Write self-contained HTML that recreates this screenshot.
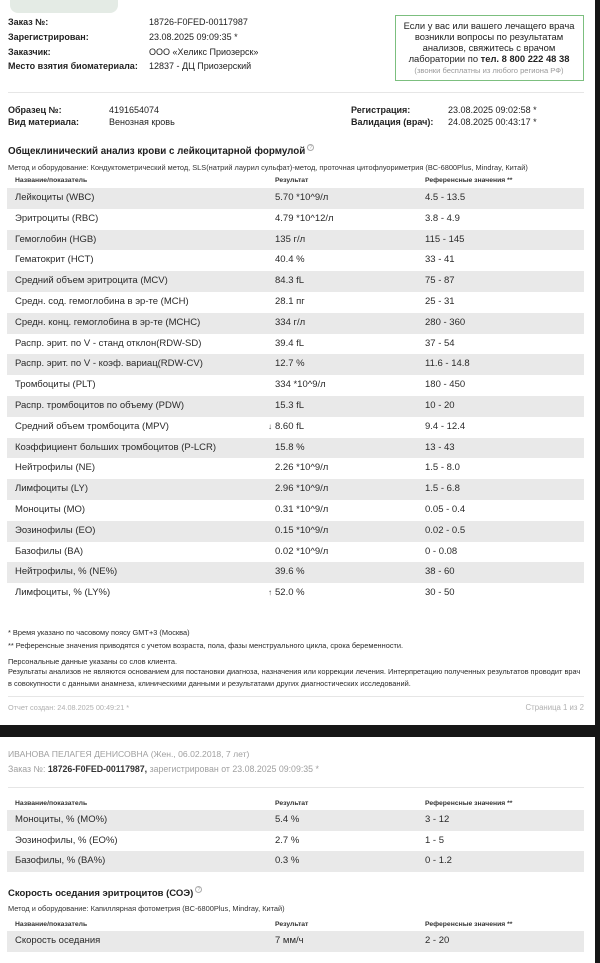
<!DOCTYPE html>
<html><head><meta charset="utf-8">
<style>
*{margin:0;padding:0;box-sizing:border-box}
html,body{width:600px;height:963px}
body{background:#fff;overflow:hidden;position:relative;font-family:"Liberation Sans","DejaVu Sans",sans-serif;color:#333}
.a{position:absolute;white-space:nowrap;line-height:12px}
.b{font-weight:bold}
.top{font-size:9px;color:#222}
.lbl{font-weight:bold;color:#222}
.row{position:absolute;left:7px;width:577px;height:20.8px;line-height:20.8px;font-size:9.5px;color:#2a2a2a}
.row.s{background:#e9e9e9}
.row span{position:absolute;top:0;white-space:nowrap}
.c1{left:8px}.c2{left:268px}.c3{left:418px}
.ar{left:261px;font-size:8px;color:#444}
.hd{position:absolute;font-size:6.8px;font-weight:bold;line-height:10px;white-space:nowrap;color:#333}
.fn{position:absolute;left:8px;font-size:7.4px;line-height:10px;white-space:nowrap;color:#2a2a2a}
.meth{position:absolute;left:8px;font-size:7.4px;line-height:10px;white-space:nowrap;color:#333}
.ttl{position:absolute;left:8px;font-size:9.8px;font-weight:bold;line-height:14px;white-space:nowrap;color:#1e1e1e}
.q{display:inline-block;width:7px;height:7px;border:0.8px solid #aaa;border-radius:50%;font-size:5px;line-height:6px;text-align:center;color:#aaa;font-weight:normal;vertical-align:5px;margin-left:2px}
.hr{position:absolute;left:8px;width:576px;height:1px;background:#e6e6e6}
.box{position:absolute;left:395px;top:15px;width:189px;height:66px;border:1.5px solid #7cbf7f}
.bl{position:absolute;left:0;width:186px;text-align:center;font-size:9.4px;line-height:11px;white-space:nowrap;color:#222}
</style></head><body>

<div style="position:absolute;left:10px;top:-8px;width:108px;height:21px;border-radius:8px;background:#e4ebe5"></div>

<div class="a top lbl" style="left:8px;top:16px">Заказ №:</div>
<div class="a top lbl" style="left:8px;top:31px">Зарегистрирован:</div>
<div class="a top lbl" style="left:8px;top:45.5px">Заказчик:</div>
<div class="a top lbl" style="left:8px;top:60px">Место взятия биоматериала:</div>
<div class="a top" style="left:149px;top:16px">18726-F0FED-00117987</div>
<div class="a top" style="left:149px;top:31px">23.08.2025 09:09:35 *</div>
<div class="a top" style="left:149px;top:45.5px">ООО «Хеликс Приозерск»</div>
<div class="a top" style="left:149px;top:60px">12837 - ДЦ Приозерский</div>

<div class="box">
 <div class="bl" style="top:3.5px">Если у вас или вашего лечащего врача</div>
 <div class="bl" style="top:14.8px">возникли вопросы по результатам</div>
 <div class="bl" style="top:26.1px">анализов, свяжитесь с врачом</div>
 <div class="bl" style="top:37.4px">лаборатории по <b>тел. 8 800 222 48 38</b></div>
 <div class="bl" style="top:49px;font-size:7.6px;color:#999">(звонки бесплатны из любого региона РФ)</div>
</div>

<div class="hr" style="top:92px"></div>

<div class="a top lbl" style="left:8px;top:103.5px">Образец №:</div>
<div class="a top lbl" style="left:8px;top:116px">Вид материала:</div>
<div class="a top" style="left:109px;top:103.5px">4191654074</div>
<div class="a top" style="left:109px;top:116px">Венозная кровь</div>
<div class="a top lbl" style="left:351px;top:103.5px">Регистрация:</div>
<div class="a top lbl" style="left:351px;top:116px">Валидация (врач):</div>
<div class="a top" style="left:448px;top:103.5px">23.08.2025 09:02:58 *</div>
<div class="a top" style="left:448px;top:116px">24.08.2025 00:43:17 *</div>

<div class="ttl" style="top:144px">Общеклинический анализ крови с лейкоцитарной формулой<span class="q">?</span></div>
<div class="meth" style="top:162.5px">Метод и оборудование: Кондуктометрический метод, SLS(натрий лаурил сульфат)-метод, проточная цитофлуориметрия (BC-6800Plus, Mindray, Китай)</div>
<div class="hd" style="left:15px;top:176px">Название/показатель</div>
<div class="hd" style="left:275px;top:176px">Результат</div>
<div class="hd" style="left:425px;top:176px">Референсные значения **</div>

<div class="row s" style="top:188px"><span class="c1">Лейкоциты (WBC)</span><span class="c2">5.70 *10^9/л</span><span class="c3">4.5 - 13.5</span></div>
<div class="row" style="top:208.8px"><span class="c1">Эритроциты (RBC)</span><span class="c2">4.79 *10^12/л</span><span class="c3">3.8 - 4.9</span></div>
<div class="row s" style="top:229.6px"><span class="c1">Гемоглобин (HGB)</span><span class="c2">135 г/л</span><span class="c3">115 - 145</span></div>
<div class="row" style="top:250.4px"><span class="c1">Гематокрит (HCT)</span><span class="c2">40.4 %</span><span class="c3">33 - 41</span></div>
<div class="row s" style="top:271.2px"><span class="c1">Средний объем эритроцита (MCV)</span><span class="c2">84.3 fL</span><span class="c3">75 - 87</span></div>
<div class="row" style="top:292px"><span class="c1">Средн. сод. гемоглобина в эр-те (MCH)</span><span class="c2">28.1 пг</span><span class="c3">25 - 31</span></div>
<div class="row s" style="top:312.8px"><span class="c1">Средн. конц. гемоглобина в эр-те (MCHC)</span><span class="c2">334 г/л</span><span class="c3">280 - 360</span></div>
<div class="row" style="top:333.6px"><span class="c1">Распр. эрит. по V - станд отклон(RDW-SD)</span><span class="c2">39.4 fL</span><span class="c3">37 - 54</span></div>
<div class="row s" style="top:354.4px"><span class="c1">Распр. эрит. по V - коэф. вариац(RDW-CV)</span><span class="c2">12.7 %</span><span class="c3">11.6 - 14.8</span></div>
<div class="row" style="top:375.2px"><span class="c1">Тромбоциты (PLT)</span><span class="c2">334 *10^9/л</span><span class="c3">180 - 450</span></div>
<div class="row s" style="top:396px"><span class="c1">Распр. тромбоцитов по объему (PDW)</span><span class="c2">15.3 fL</span><span class="c3">10 - 20</span></div>
<div class="row" style="top:416.8px"><span class="c1">Средний объем тромбоцита (MPV)</span><span class="ar">↓</span><span class="c2">8.60 fL</span><span class="c3">9.4 - 12.4</span></div>
<div class="row s" style="top:437.6px"><span class="c1">Коэффициент больших тромбоцитов (P-LCR)</span><span class="c2">15.8 %</span><span class="c3">13 - 43</span></div>
<div class="row" style="top:458.4px"><span class="c1">Нейтрофилы (NE)</span><span class="c2">2.26 *10^9/л</span><span class="c3">1.5 - 8.0</span></div>
<div class="row s" style="top:479.2px"><span class="c1">Лимфоциты (LY)</span><span class="c2">2.96 *10^9/л</span><span class="c3">1.5 - 6.8</span></div>
<div class="row" style="top:500px"><span class="c1">Моноциты (MO)</span><span class="c2">0.31 *10^9/л</span><span class="c3">0.05 - 0.4</span></div>
<div class="row s" style="top:520.8px"><span class="c1">Эозинофилы (EO)</span><span class="c2">0.15 *10^9/л</span><span class="c3">0.02 - 0.5</span></div>
<div class="row" style="top:541.6px"><span class="c1">Базофилы (BA)</span><span class="c2">0.02 *10^9/л</span><span class="c3">0 - 0.08</span></div>
<div class="row s" style="top:562.4px"><span class="c1">Нейтрофилы, % (NE%)</span><span class="c2">39.6 %</span><span class="c3">38 - 60</span></div>
<div class="row" style="top:583.2px"><span class="c1">Лимфоциты, % (LY%)</span><span class="ar">↑</span><span class="c2">52.0 %</span><span class="c3">30 - 50</span></div>

<div class="fn" style="top:628.3px">* Время указано по часовому поясу GMT+3 (Москва)</div>
<div class="fn" style="top:641px">** Референсные значения приводятся с учетом возраста, пола, фазы менструального цикла, срока беременности.</div>
<div class="fn" style="top:657.3px">Персональные данные указаны со слов клиента.</div>
<div class="fn" style="top:667.3px">Результаты анализов не являются основанием для постановки диагноза, назначения или коррекции лечения. Интерпретацию полученных результатов проводит врач</div>
<div class="fn" style="top:679px">в совокупности с данными анамнеза, клиническими данными и результатами других диагностических исследований.</div>

<div class="hr" style="top:695.5px"></div>
<div class="a" style="left:8px;top:702px;font-size:7.3px;color:#b0b0b0">Отчет создан: 24.08.2025 00:49:21 *</div>
<div class="a" style="right:16px;top:702px;font-size:7.8px;color:#b0b0b0">Страница 1 из 2</div>

<div style="position:absolute;left:0;top:725px;width:600px;height:12px;background:#161616"></div>
<div style="position:absolute;left:595px;top:0;width:5px;height:963px;background:#161616"></div>

<div class="a" style="left:8px;top:748px;font-size:8.6px;color:#a0a0a0">ИВАНОВА ПЕЛАГЕЯ ДЕНИСОВНА (Жен., 06.02.2018, 7 лет)</div>
<div class="a" style="left:8px;top:763px;font-size:8.8px;color:#a0a0a0">Заказ №: <b style="color:#333">18726-F0FED-00117987,</b> зарегистрирован от 23.08.2025 09:09:35 *</div>
<div class="hr" style="top:787px"></div>

<div class="hd" style="left:15px;top:799px">Название/показатель</div>
<div class="hd" style="left:275px;top:799px">Результат</div>
<div class="hd" style="left:425px;top:799px">Референсные значения **</div>
<div class="row s" style="top:810px;height:20.5px;line-height:20.5px"><span class="c1">Моноциты, % (MO%)</span><span class="c2">5.4 %</span><span class="c3">3 - 12</span></div>
<div class="row" style="top:830.5px;height:20.5px;line-height:20.5px"><span class="c1">Эозинофилы, % (EO%)</span><span class="c2">2.7 %</span><span class="c3">1 - 5</span></div>
<div class="row s" style="top:851px;height:20.5px;line-height:20.5px"><span class="c1">Базофилы, % (BA%)</span><span class="c2">0.3 %</span><span class="c3">0 - 1.2</span></div>

<div class="ttl" style="top:886px;font-size:9.5px">Скорость оседания эритроцитов (СОЭ)<span class="q">?</span></div>
<div class="meth" style="top:904px">Метод и оборудование: Капиллярная фотометрия (BC-6800Plus, Mindray, Китай)</div>
<div class="hd" style="left:15px;top:920px">Название/показатель</div>
<div class="hd" style="left:275px;top:920px">Результат</div>
<div class="hd" style="left:425px;top:920px">Референсные значения **</div>
<div class="row s" style="top:931px"><span class="c1">Скорость оседания</span><span class="c2">7 мм/ч</span><span class="c3">2 - 20</span></div>

</body></html>
